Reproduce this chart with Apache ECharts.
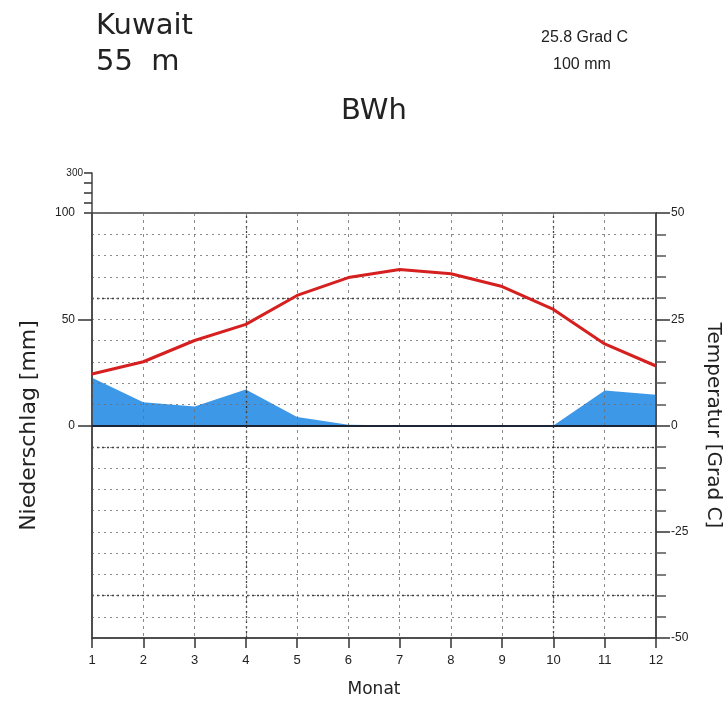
<!DOCTYPE html>
<html><head><meta charset="utf-8">
<script src="https://cdn.jsdelivr.net/npm/echarts@6/dist/echarts.min.js"></script>
<style>html,body{margin:0;padding:0;background:#fff}#c{width:725px;height:705px}</style>
</head><body><div id="c"></div>
<script>
// ---- data ----
const months = [1, 2, 3, 4, 5, 6, 7, 8, 9, 10, 11, 12];
const precipitation = [22.5, 11, 9, 17, 4, 0.3, 0, 0, 0, 0, 16.5, 14.5];   // mm
const temperature = [12.1, 15.0, 20.0, 23.8, 30.6, 34.8, 36.7, 35.7, 32.7, 27.3, 19.2, 14.0]; // Grad C
const precipLabelValues = [0, 50, 100];
const precipTickValues = [0, 50];
const upperPrecipLabelValues = [300];
const darkGridTemps = [30, -5, -40];
const darkGridMonths = [4, 10];
const stationName = 'Kuwait';
const stationElevation = '55  m';
const climateClass = 'BWh';
const meanTempText = '25.8 Grad C';
const annualPrecipText = '100 mm';

const FT = 'DejaVu Sans';
const FN = 'Liberation Sans';
const TXT = '#222';
const AX = '#444';
const GRID = 'rgba(110,110,110,0.8)';

const chart = echarts.init(document.getElementById('c'), null, {renderer: 'canvas'});
const option = {
  animation: false,
  backgroundColor: '#fff',
  title: [
    {text: stationName, left: 96, top: 12, padding: 0, textStyle: {fontFamily: FT, fontSize: 29, fontWeight: 'normal', color: TXT}},
    {text: stationElevation, left: 96, top: 48, padding: 0, textStyle: {fontFamily: FT, fontSize: 29, fontWeight: 'normal', color: TXT}},
    {text: climateClass, left: 341, top: 97, padding: 0, textStyle: {fontFamily: FT, fontSize: 29, fontWeight: 'normal', color: TXT}},
    {text: meanTempText, left: 541, top: 30, padding: 0, textStyle: {fontFamily: FN, fontSize: 16, fontWeight: 'normal', color: TXT}},
    {text: annualPrecipText, left: 553, top: 57, padding: 0, textStyle: {fontFamily: FN, fontSize: 16, fontWeight: 'normal', color: TXT}}
  ],
  grid: [
    {left: 92, right: 69, top: 213, bottom: 67, show: true, borderColor: AX, borderWidth: 1.5,
     backgroundColor: 'transparent', containLabel: false, outerBoundsMode: 'none'},
    {left: 92, right: 69, top: 173, height: 40, containLabel: false, outerBoundsMode: 'none'}
  ],
  xAxis: [
    {
      gridIndex: 0, type: 'value', min: 1, max: 12, interval: 1, z: 3,
      axisLine: {show: true, onZero: false, lineStyle: {color: AX, width: 1.5}},
      axisTick: {show: true, length: 10, lineStyle: {color: '#333', width: 1.5}},
      axisLabel: {margin: 16, fontFamily: FN, fontSize: 13, color: TXT},
      splitLine: {show: true, lineStyle: {color: GRID, type: [3, 4], width: 1}},
      name: 'Monat', nameLocation: 'middle', nameGap: 43,
      nameTextStyle: {fontFamily: FT, fontSize: 17, color: TXT}
    },
    {gridIndex: 1, type: 'value', min: 1, max: 12, show: false, axisLine: {onZero: false}}
  ],
  yAxis: [
    {
      gridIndex: 0, type: 'value', min: -100, max: 100, position: 'left', z: 3,
      axisLine: {show: true, onZero: false, lineStyle: {color: AX, width: 1.5}},
      axisTick: {show: true, customValues: precipTickValues, length: 14, lineStyle: {color: '#333', width: 1.5}},
      axisLabel: {customValues: precipLabelValues, margin: 17, fontFamily: FN, fontSize: 12, color: TXT},
      splitLine: {show: false},
      name: 'Niederschlag [mm]', nameLocation: 'middle', nameRotate: 90, nameGap: 52,
      nameTextStyle: {fontFamily: FT, fontSize: 22, color: TXT}
    },
    {
      gridIndex: 0, type: 'value', min: -50, max: 50, interval: 25, position: 'right', z: 3,
      axisLine: {show: true, onZero: false, lineStyle: {color: AX, width: 1.5}},
      axisTick: {show: true, length: 14, lineStyle: {color: '#333', width: 1.5}},
      minorTick: {show: true, splitNumber: 5, length: 10, lineStyle: {color: '#555', width: 1.5}},
      axisLabel: {margin: 15, fontFamily: FN, fontSize: 12, color: TXT},
      splitLine: {show: true, lineStyle: {color: GRID, type: [2, 4], width: 1}},
      minorSplitLine: {show: true, lineStyle: {color: GRID, type: [2, 4], width: 1}},
      name: 'Temperatur [Grad C]', nameLocation: 'middle', nameRotate: -90, nameGap: 47,
      nameTextStyle: {fontFamily: FT, fontSize: 20, color: TXT}
    },
    {
      gridIndex: 1, type: 'value', min: 100, max: 300, interval: 50, position: 'left',
      axisLine: {show: true, onZero: false, lineStyle: {color: AX, width: 1.5}},
      axisTick: {show: true, length: 8, lineStyle: {color: '#333', width: 1.5}},
      axisLabel: {customValues: upperPrecipLabelValues, margin: 9, fontFamily: FN, fontSize: 10, color: TXT},
      splitLine: {show: false}
    }
  ],
  series: [
    {
      name: 'Niederschlag', type: 'line', xAxisIndex: 0, yAxisIndex: 0, z: 1,
      data: months.map((m, i) => [m, precipitation[i]]),
      symbol: 'none', lineStyle: {width: 0},
      areaStyle: {color: '#3d98e8', opacity: 1},
      markLine: {
        silent: true, symbol: 'none', label: {show: false},
        lineStyle: {color: '#1b2535', width: 2, type: 'solid'},
        data: [{yAxis: 0}]
      }
    },
    {
      name: 'Temperatur', type: 'line', xAxisIndex: 0, yAxisIndex: 1, z: 5,
      data: months.map((m, i) => [m, temperature[i]]),
      symbol: 'none', lineStyle: {color: '#d61f1f', width: 3},
      markLine: {
        silent: true, symbol: 'none', label: {show: false}, z: 2,
        lineStyle: {color: 'rgba(30,30,30,0.85)', width: 1.3, type: [2, 3]},
        data: darkGridTemps.map(t => ({yAxis: t})).concat(darkGridMonths.map(m => ({xAxis: m})))
      }
    }
  ]
};
chart.setOption(option);
</script>
</body></html>
